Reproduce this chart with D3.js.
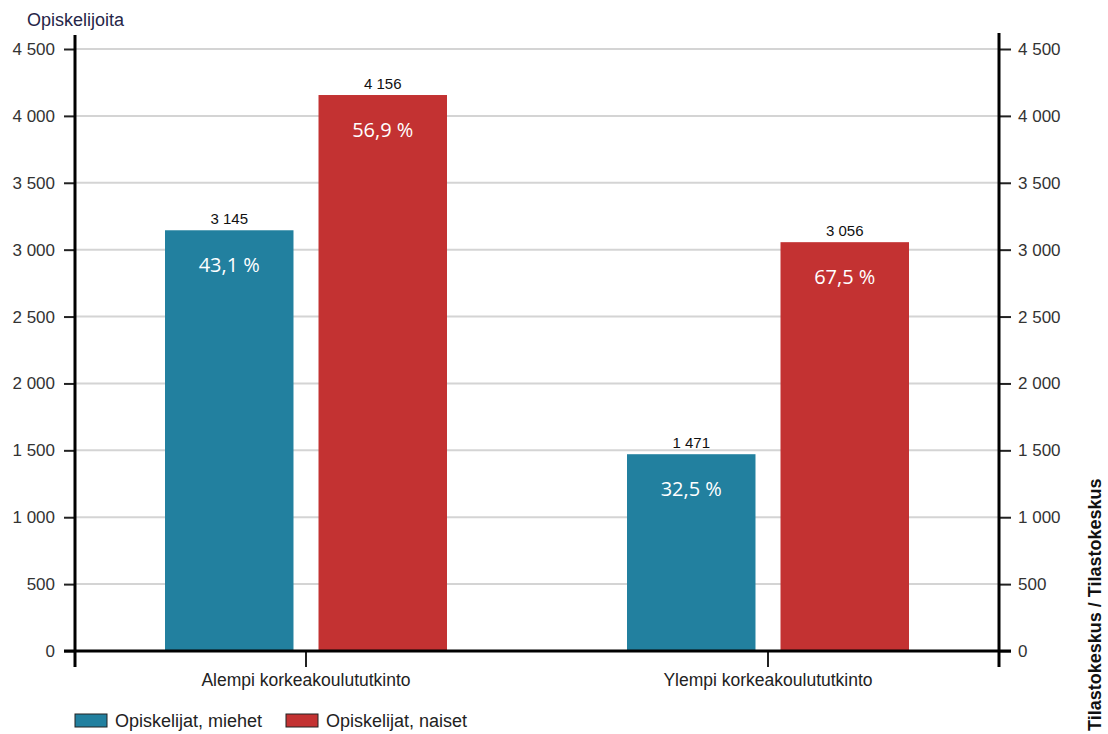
<!DOCTYPE html>
<html>
<head>
<meta charset="utf-8">
<script src="https://cdn.jsdelivr.net/npm/d3@7"></script>
<style>
  body { margin: 0; background: #fff; }
  svg { display: block; font-family: "Liberation Sans", Arial, sans-serif; }
</style>
</head>
<body>
<svg id="chart" width="1108" height="734"></svg>
<script>
// Students by degree level and gender
const categories = ["Alempi korkeakoulututkinto", "Ylempi korkeakoulututkinto"];
const seriesNames = ["Opiskelijat, miehet", "Opiskelijat, naiset"];
const men = [3145, 1471];
const women = [4156, 3056];
const menShare = ["43,1 %", "32,5 %"];
const womenShare = ["56,9 %", "67,5 %"];
const yTicks = [0, 500, 1000, 1500, 2000, 2500, 3000, 3500, 4000, 4500];
const colors = ["#22809f", "#c33232"];

const svg = d3.select("#chart");
const plotLeft = 75, plotRight = 999, plotTop = 49, plotBottom = 651;

const fmt = v => d3.format(",")(v).replace(/,/g, " ");

const x0 = d3.scaleBand().domain(categories).range([plotLeft, plotRight]).paddingInner(0).paddingOuter(0);
const x1 = d3.scaleBand().domain(seriesNames).range([90, 372]).paddingInner(0.163);
const y = d3.scaleLinear().domain([0, 4500]).range([plotBottom, plotTop]);

// horizontal grid
svg.append("g").selectAll("line").data(yTicks.filter(d => d > 0)).join("line")
  .attr("x1", plotLeft).attr("x2", plotRight)
  .attr("y1", d => y(d)).attr("y2", d => y(d))
  .attr("stroke", "#d4d4d4").attr("stroke-width", 2);

const rows = categories.map((c, i) => ({
  cat: c,
  vals: [
    { s: seriesNames[0], v: men[i], p: menShare[i], c: colors[0] },
    { s: seriesNames[1], v: women[i], p: womenShare[i], c: colors[1] }
  ]
}));

const groups = svg.append("g").selectAll("g").data(rows).join("g")
  .attr("transform", d => `translate(${x0(d.cat)},0)`);

groups.selectAll("rect").data(d => d.vals).join("rect")
  .attr("x", d => x1(d.s)).attr("width", x1.bandwidth())
  .attr("y", d => y(d.v)).attr("height", d => y(0) - y(d.v))
  .attr("fill", d => d.c);

groups.selectAll("text.val").data(d => d.vals).join("text")
  .attr("class", "val")
  .attr("x", d => x1(d.s) + x1.bandwidth() / 2)
  .attr("y", d => y(d.v) - 6)
  .attr("text-anchor", "middle")
  .attr("font-size", 15).attr("fill", "#111")
  .text(d => fmt(d.v));

groups.selectAll("text.pct").data(d => d.vals).join("text")
  .attr("class", "pct")
  .attr("x", d => x1(d.s) + x1.bandwidth() / 2)
  .attr("y", d => y(d.v) + 42)
  .attr("text-anchor", "middle")
  .attr("font-family", "'Open Sans', sans-serif")
  .attr("font-size", 20).attr("fill", "#fff")
  .text(d => d.p);

// left and right value axes
const yAxisL = d3.axisLeft(y).tickValues(yTicks).tickFormat(fmt).tickSize(11).tickPadding(9);
const gL = svg.append("g").attr("transform", `translate(${plotLeft},0)`).call(yAxisL);
const yAxisR = d3.axisRight(y).tickValues(yTicks).tickFormat(fmt).tickSize(12).tickPadding(7);
const gR = svg.append("g").attr("transform", `translate(${plotRight},0)`).call(yAxisR);
[gL, gR].forEach(g => {
  g.select(".domain").remove();
  g.selectAll(".tick line").attr("stroke", "#222").attr("stroke-width", 2);
  g.selectAll(".tick text").attr("font-size", 17).attr("fill", "#333")
    .attr("font-family", "'Liberation Sans', Arial, sans-serif");
});

// category axis
const xAxis = d3.axisBottom(x0).tickSize(16).tickPadding(7);
const gX = svg.append("g").attr("transform", `translate(0,${plotBottom})`).call(xAxis);
gX.select(".domain").remove();
gX.selectAll(".tick line").attr("stroke", "#222").attr("stroke-width", 2);
gX.selectAll(".tick text").attr("font-size", 17.5).attr("fill", "#222")
  .attr("font-family", "'Liberation Sans', Arial, sans-serif");

// frame lines
svg.append("line").attr("x1", plotLeft).attr("x2", plotLeft).attr("y1", 35).attr("y2", 667)
  .attr("stroke", "#000").attr("stroke-width", 3);
svg.append("line").attr("x1", plotRight).attr("x2", plotRight).attr("y1", 33).attr("y2", 667)
  .attr("stroke", "#000").attr("stroke-width", 3);
svg.append("line").attr("x1", plotLeft - 11).attr("x2", plotRight + 12).attr("y1", plotBottom).attr("y2", plotBottom)
  .attr("stroke", "#000").attr("stroke-width", 3);

// axis title
svg.append("text").attr("x", 27).attr("y", 26)
  .attr("font-size", 18).attr("fill", "#262648").text("Opiskelijoita");

// legend
const legend = svg.append("g").selectAll("g").data(seriesNames).join("g")
  .attr("transform", (d, i) => `translate(${[75, 286][i]},714)`);
legend.append("rect").attr("width", 32).attr("height", 13)
  .attr("fill", (d, i) => colors[i]).attr("stroke", "#222").attr("stroke-width", 1);
legend.append("text").attr("x", 40).attr("y", 13)
  .attr("font-size", 18).attr("fill", "#222").text(d => d);

// source credit
svg.append("text").attr("transform", "translate(1101,731) rotate(-90)")
  .attr("font-size", 18).attr("font-weight", "bold").attr("fill", "#111")
  .text("Tilastokeskus / Tilastokeskus");
</script>
</body>
</html>
